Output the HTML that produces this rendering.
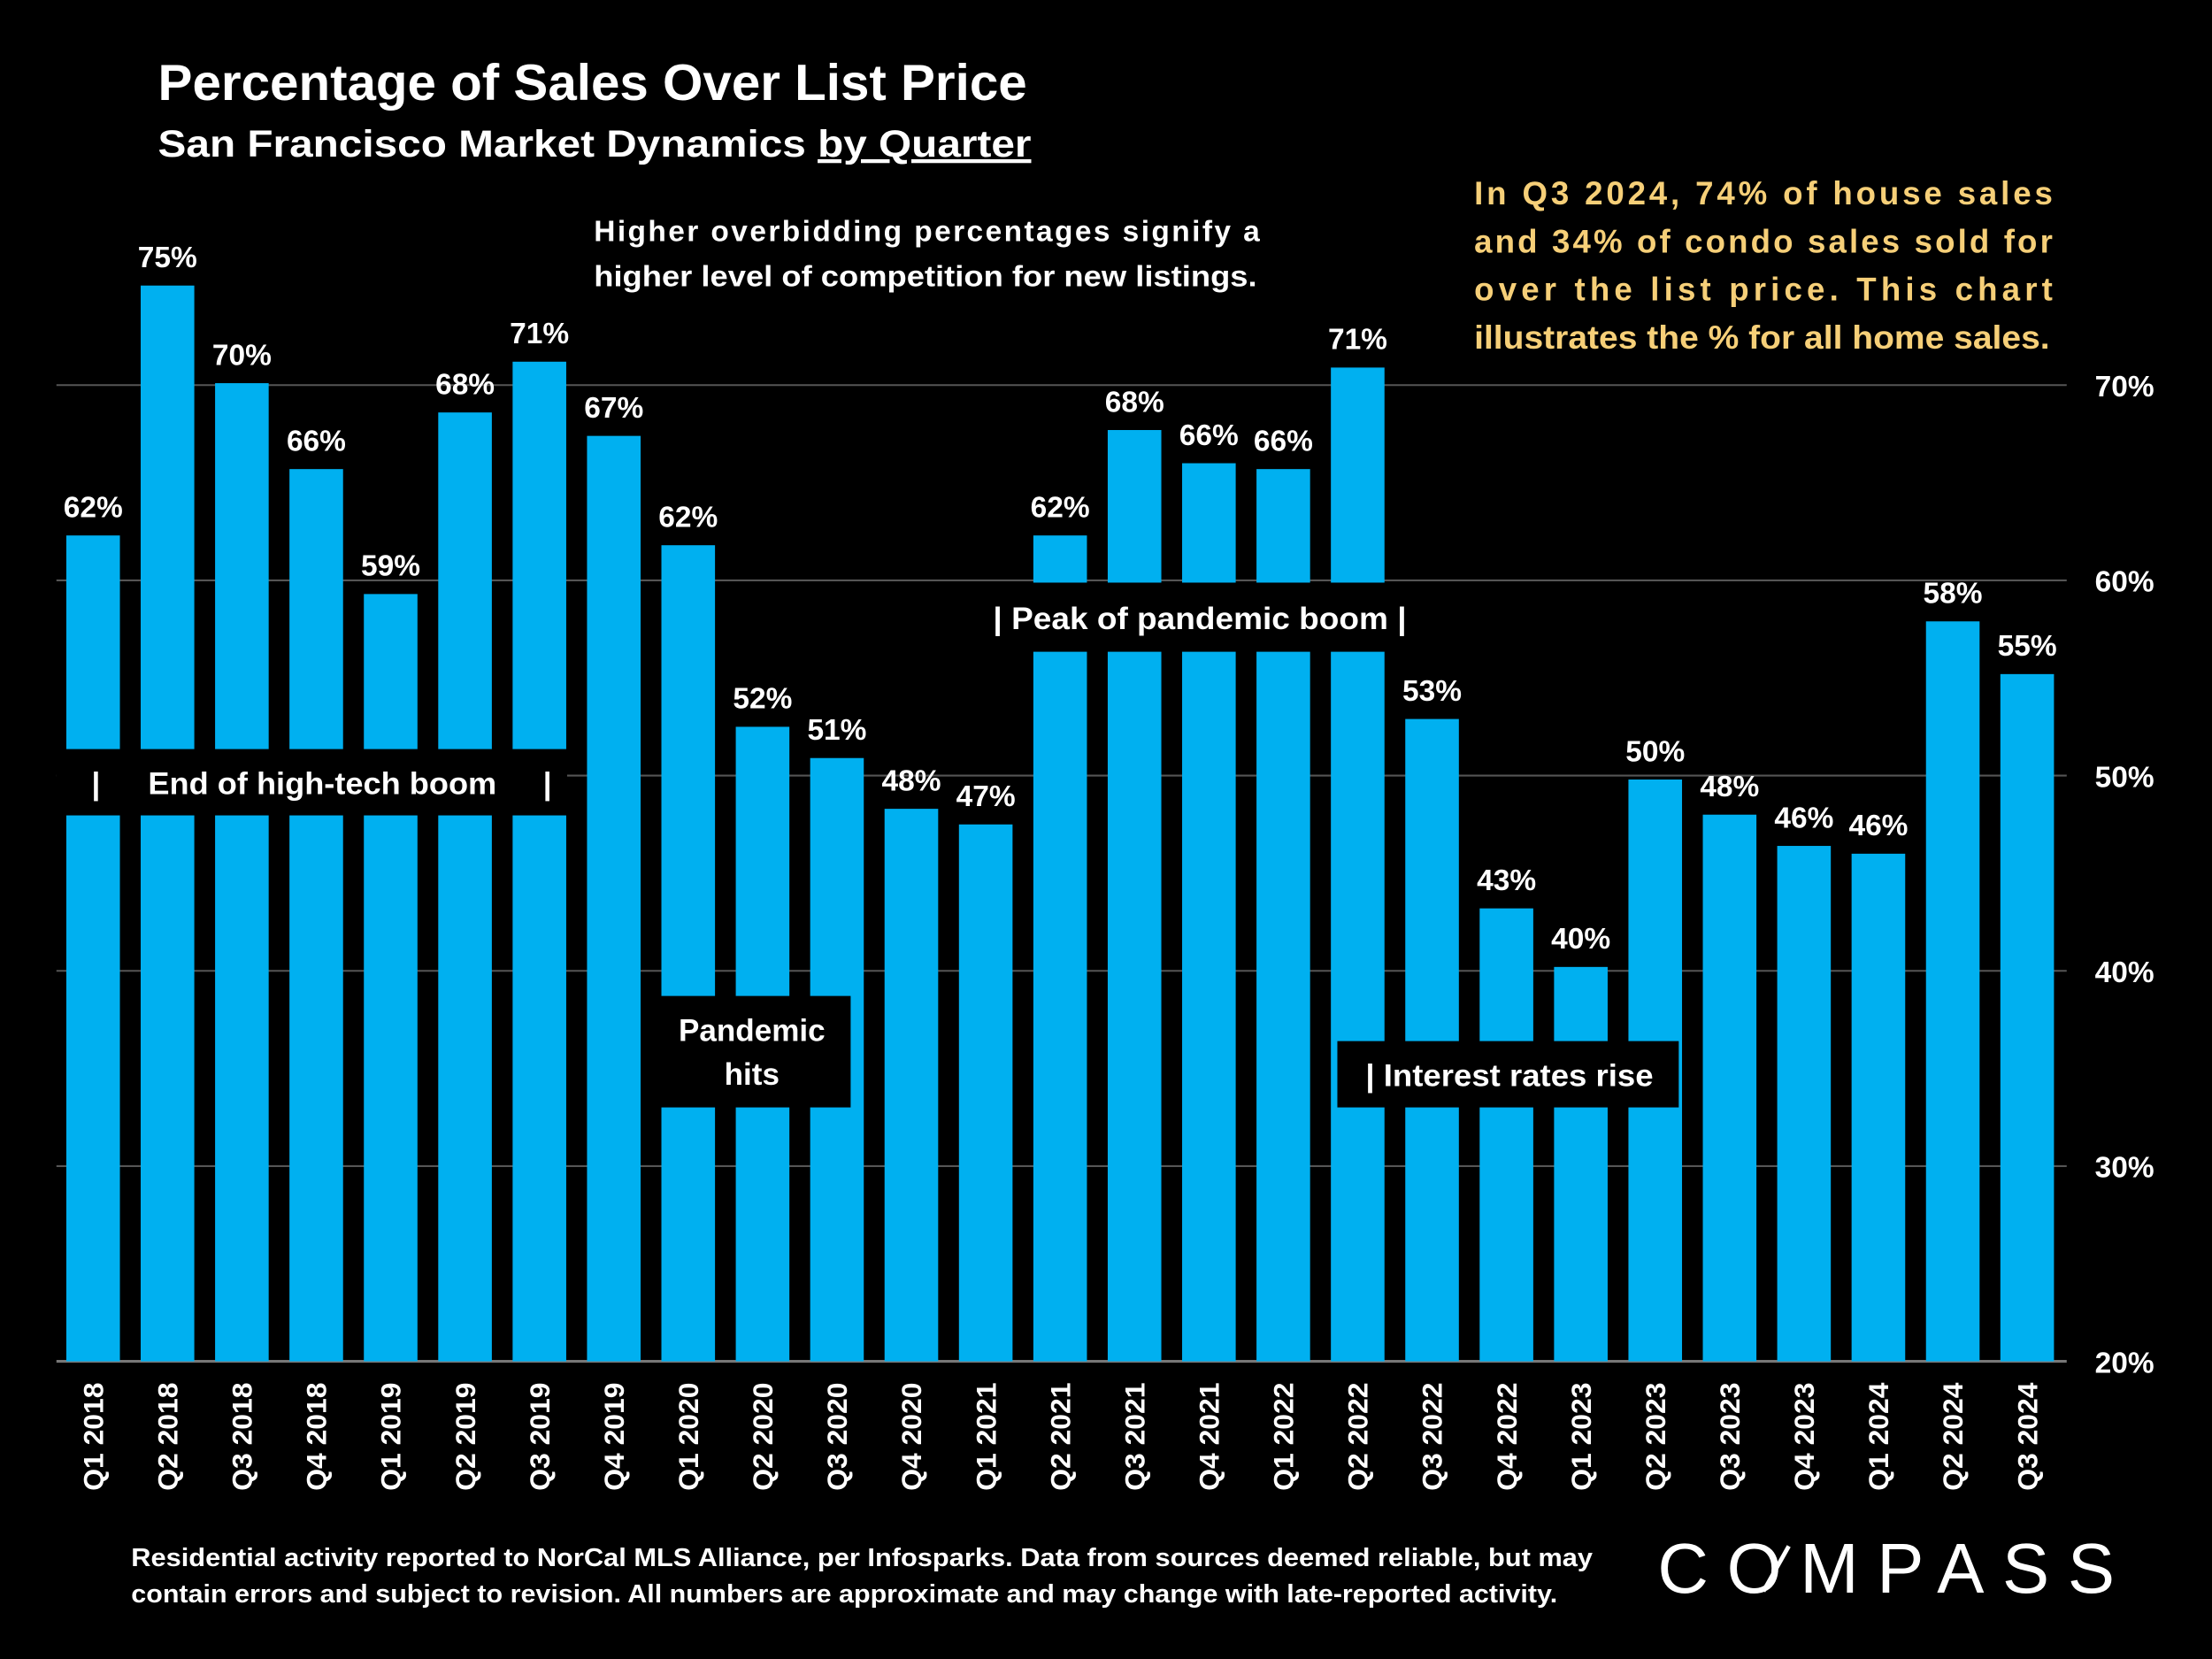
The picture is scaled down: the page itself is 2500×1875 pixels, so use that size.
<!DOCTYPE html>
<html><head><meta charset="utf-8"><style>
html,body{margin:0;padding:0;background:#000;}
svg{display:block;}
text{font-family:"Liberation Sans",sans-serif;font-weight:bold;}
</style></head><body>
<svg id="chart" width="2500" height="1875" viewBox="0 0 1568 1176" xmlns="http://www.w3.org/2000/svg">
<rect x="0" y="0" width="1568" height="1176" fill="#000"/>
<text x="112" y="71" font-size="36" fill="#fff" textLength="616" lengthAdjust="spacingAndGlyphs">Percentage of Sales Over List Price</text>
<text x="112" y="111" font-size="27" fill="#fff" textLength="619" lengthAdjust="spacingAndGlyphs">San Francisco Market Dynamics <tspan text-decoration="underline">by Quarter</tspan></text>
<g id="grid"></g>
<g id="bars"></g>
<g id="ann">
<rect x="40" y="531" width="362" height="47" fill="#000"/>
<text x="68" y="563" font-size="22" fill="#fff" text-anchor="middle">|</text>
<text x="105" y="563" font-size="22" fill="#fff" textLength="247" lengthAdjust="spacingAndGlyphs">End of high-tech boom</text>
<text x="388" y="563" font-size="22" fill="#fff" text-anchor="middle">|</text>
<rect x="697" y="413" width="303" height="49" fill="#000"/>
<text x="704" y="446" font-size="22" fill="#fff" textLength="293" lengthAdjust="spacingAndGlyphs">| Peak of pandemic boom |</text>
<rect x="463" y="706" width="140" height="79" fill="#000"/>
<text x="533" y="738" font-size="22" fill="#fff" text-anchor="middle">Pandemic</text>
<text x="533" y="769" font-size="22" fill="#fff" text-anchor="middle">hits</text>
<rect x="948" y="738" width="242" height="47" fill="#000"/>
<text x="968" y="770" font-size="22" fill="#fff" textLength="204" lengthAdjust="spacingAndGlyphs">| Interest rates rise</text>
</g>
<text x="421" y="171" font-size="21" fill="#fff" textLength="472" lengthAdjust="spacing">Higher overbidding percentages signify a</text>
<text x="421" y="203" font-size="21" fill="#fff" textLength="470" lengthAdjust="spacingAndGlyphs">higher level of competition for new listings.</text>
<g fill="#f6cf78" font-size="23">
<text x="1045" y="145" textLength="410" lengthAdjust="spacing">In Q3 2024, 74% of house sales</text>
<text x="1045" y="179" textLength="410" lengthAdjust="spacing">and 34% of condo sales sold for</text>
<text x="1045" y="213" textLength="410" lengthAdjust="spacing">over the list price. This chart</text>
<text x="1045" y="247" textLength="408" lengthAdjust="spacingAndGlyphs">illustrates the % for all home sales.</text>
</g>
<text x="93" y="1110" font-size="18" fill="#fff" textLength="1036" lengthAdjust="spacingAndGlyphs">Residential activity reported to NorCal MLS Alliance, per Infosparks. Data from sources deemed reliable, but may</text>
<text x="93" y="1136" font-size="18" fill="#fff" textLength="1011" lengthAdjust="spacingAndGlyphs">contain errors and subject to revision. All numbers are approximate and may change with late-reported activity.</text>
<text x="1175" y="1129" font-size="50" fill="#fff" letter-spacing="6" textLength="330" lengthAdjust="spacing" style="font-weight:normal">COMPASS</text>
</svg>
<script>
const categories=["Q1 2018","Q2 2018","Q3 2018","Q4 2018","Q1 2019","Q2 2019","Q3 2019","Q4 2019","Q1 2020","Q2 2020","Q3 2020","Q4 2020","Q1 2021","Q2 2021","Q3 2021","Q4 2021","Q1 2022","Q2 2022","Q3 2022","Q4 2022","Q1 2023","Q2 2023","Q3 2023","Q4 2023","Q1 2024","Q2 2024","Q3 2024"];
const values=[62.3,75.1,70.1,65.7,59.3,68.6,71.2,67.4,61.8,52.5,50.9,48.3,47.5,62.3,67.7,66.0,65.7,70.9,52.9,43.2,40.2,49.8,48.0,46.4,46.0,57.9,55.2];
const valueLabels=["62%","75%","70%","66%","59%","68%","71%","67%","62%","52%","51%","48%","47%","62%","68%","66%","66%","71%","53%","43%","40%","50%","48%","46%","46%","58%","55%"];
const ticks=[20,30,40,50,60,70];
const tickLabels=["20%","30%","40%","50%","60%","70%"];
const NS="http://www.w3.org/2000/svg";
const y=v=>965-(v-20)*13.84;
const x=i=>66+i*52.73;
const bw=38;
const grid=document.getElementById('grid'),bars=document.getElementById('bars'),svg=document.getElementById('chart');
function mk(t,a,p){const e=document.createElementNS(NS,t);for(const k in a)e.setAttribute(k,a[k]);p.appendChild(e);return e;}
ticks.forEach((t,i)=>{
 const l=mk('line',{x1:40,x2:1465,y1:y(t),y2:y(t),stroke:t===20?'#777':'#555','stroke-width':t===20?2:1.3},grid);
 
 
 const tx=mk('text',{x:1485,y:y(t)+8,'font-size':21,fill:'#fff'},grid);
 tx.textContent=tickLabels[i];
 
 
});
const ann=document.getElementById('ann');
values.forEach((v,i)=>{
 const r=mk('rect',{x:x(i)-bw/2,y:y(v),width:bw,height:y(20)-y(v),fill:'#00b0f0'},bars);
 
 
 const t=mk('text',{x:x(i),y:y(v)-13,'font-size':21,fill:'#fff','text-anchor':'middle'},bars);
 t.textContent=valueLabels[i];
 
 
 const c=mk('text',{transform:`translate(${x(i)+7},980) rotate(-90)`,'font-size':20,fill:'#fff','text-anchor':'end'},bars);
 c.textContent=categories[i];
 
 
});
svg.appendChild(ann);
const sl=mk('line',{x1:1250,y1:1128,x2:1268,y2:1096,stroke:'#fff','stroke-width':3},svg);


</script>
</body></html>
